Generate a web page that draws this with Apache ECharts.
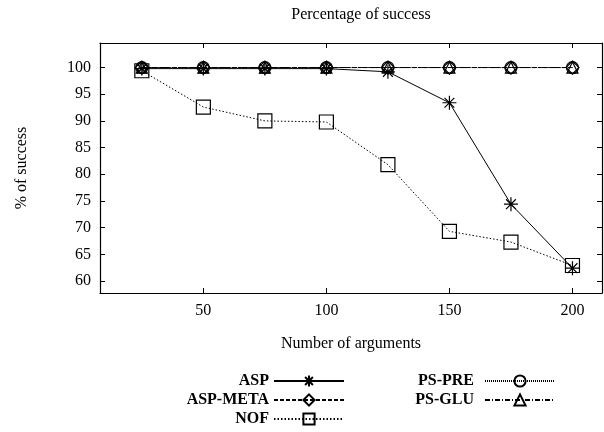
<!DOCTYPE html>
<html><head><meta charset="utf-8">
<script src="https://cdn.jsdelivr.net/npm/echarts@6/dist/echarts.min.js"></script>
<style>html,body{margin:0;padding:0;background:#fff}#c{width:604px;height:432px}</style>
</head><body><div id="c"></div>
<script>
const xValues = [25, 50, 75, 100, 125, 150, 175, 200];
const asp     = [99.8, 99.8, 99.8, 99.8, 99.2, 93.4, 74.4, 62.4];
const aspMeta = [100, 100, 100, 100, 100, 100, 100, 100];
const nof     = [99.4, 92.6, 90.0, 89.8, 81.8, 69.3, 67.3, 62.9];
const psPre   = [100, 100, 100, 100, 100, 100, 100, 100];
const psGlu   = [100, 100, 100, 100, 100, 100, 100, 100];
const xTicks = [50, 100, 150, 200];
const yTicks = [60, 65, 70, 75, 80, 85, 90, 95, 100];

const FONT = '"Liberation Serif", "DejaVu Serif", serif';
const FS = 16;
const pairs = arr => xValues.map((x, i) => [x, arr[i]]);
const starPath = 'path://M0,5 L10,5 M5,0 L5,10 M1.5,1.5 L8.5,8.5 M8.5,1.5 L1.5,8.5';

function mk(name, data, symbol, size, lineType) {
  return {
    name, type: 'line', data: pairs(data), symbol, symbolSize: size,
    xAxisIndex: 0, yAxisIndex: 0,
    lineStyle: { color: '#000', width: 1, type: lineType },
    itemStyle: { color: 'rgba(0,0,0,0)', borderColor: '#000', borderWidth: 1.2 },
    emphasis: { disabled: true }, animation: false
  };
}

const series = [
  mk('ASP', asp, starPath, 14, 'solid'),
  mk('ASP-META', aspMeta, 'diamond', 13, [4, 2]),
  mk('NOF', nof, 'rect', 14, [1.5, 2]),
  mk('PS-PRE', psPre, 'circle', 12, [1, 1]),
  mk('PS-GLU', psGlu, 'triangle', 11, [5, 2, 1, 2])
];

function leg(name, right, top, gap) {
  return {
    data: [name], right, top, align: 'right', itemWidth: 70, itemHeight: 14,
    itemGap: 0, padding: 0, selectedMode: false,
    textStyle: { fontFamily: FONT, fontSize: FS, fontWeight: 'bold', color: '#000', padding: [0, gap, 0, 0] }
  };
}

const xMin = 8, xMax = 212, yMin = 57.75, yMax = 104.6;
const tickStyle = { lineStyle: { color: '#000', width: 1 } };
const axisLineStyle = { show: true, onZero: false, lineStyle: { color: '#000', width: 1.2 } };

const option = {
  backgroundColor: '#fff',
  animation: false,
  title: {
    text: 'Percentage of success', left: 356, top: 2, textAlign: 'center',
    textStyle: { fontFamily: FONT, fontSize: FS, fontWeight: 'normal', color: '#000' }
  },
  grid: { left: 100, right: 2, top: 43, bottom: 139 },
  legend: [
    leg('ASP', 604 - 345, 373, 0),
    leg('ASP-META', 604 - 345, 392, 0),
    leg('NOF', 604 - 345, 411, 0),
    leg('PS-PRE', 604 - 556, 373, 6),
    leg('PS-GLU', 604 - 556, 392, 6)
  ],
  xAxis: [
    {
      type: 'value', position: 'bottom', min: xMin, max: xMax,
      name: 'Number of arguments', nameLocation: 'middle', nameGap: 43,
      nameTextStyle: { fontFamily: FONT, fontSize: FS, color: '#000' },
      axisLine: axisLineStyle,
      axisTick: Object.assign({ show: true, inside: true, length: 5, customValues: xTicks }, tickStyle),
      axisLabel: { customValues: xTicks, fontFamily: FONT, fontSize: FS, color: '#000', margin: 10 },
      splitLine: { show: false }
    },
    {
      type: 'value', position: 'top', min: xMin, max: xMax,
      axisLine: axisLineStyle,
      axisTick: Object.assign({ show: true, inside: true, length: 5, customValues: xTicks }, tickStyle),
      axisLabel: { show: false }, splitLine: { show: false }
    }
  ],
  yAxis: [
    {
      type: 'value', position: 'left', min: yMin, max: yMax,
      name: '% of success', nameLocation: 'middle', nameGap: 70, nameRotate: 90,
      nameTextStyle: { fontFamily: FONT, fontSize: FS, color: '#000' },
      axisLine: axisLineStyle,
      axisTick: Object.assign({ show: true, inside: true, length: 5, customValues: yTicks }, tickStyle),
      axisLabel: { customValues: yTicks, fontFamily: FONT, fontSize: FS, color: '#000', margin: 9 },
      splitLine: { show: false }
    },
    {
      type: 'value', position: 'right', min: yMin, max: yMax,
      axisLine: axisLineStyle,
      axisTick: Object.assign({ show: true, inside: true, length: 5, customValues: yTicks }, tickStyle),
      axisLabel: { show: false }, splitLine: { show: false }
    }
  ],
  series
};

const chart = echarts.init(document.getElementById('c'), null, { renderer: 'canvas' });
chart.setOption(option);
</script></body></html>
